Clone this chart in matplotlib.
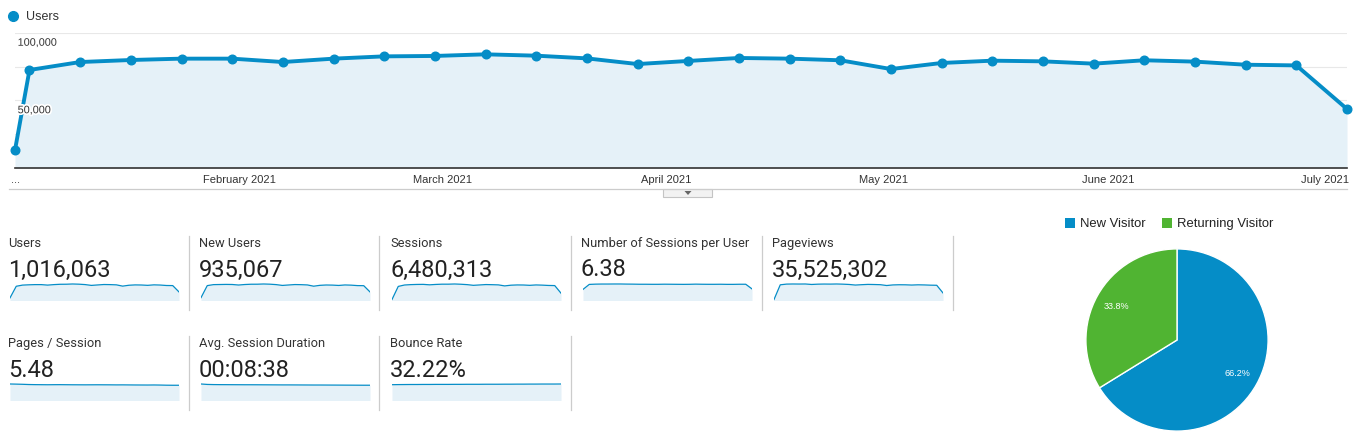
import matplotlib
matplotlib.use("Agg")
import matplotlib.pyplot as plt
import numpy as np
import pandas as pd
from matplotlib.patches import Rectangle, Polygon
from matplotlib.lines import Line2D
import matplotlib.patheffects as pe

# ---------------- data ----------------
week_dates = ['2021-01-01', '2021-01-03', '2021-01-10', '2021-01-17', '2021-01-24', '2021-01-31',
              '2021-02-07', '2021-02-14', '2021-02-21', '2021-02-28', '2021-03-07', '2021-03-14',
              '2021-03-21', '2021-03-28', '2021-04-04', '2021-04-11', '2021-04-18', '2021-04-25',
              '2021-05-02', '2021-05-09', '2021-05-16', '2021-05-23', '2021-05-30', '2021-06-06',
              '2021-06-13', '2021-06-20', '2021-06-27', '2021-07-04']
users = [13300, 72600, 78500, 80000, 81000, 81000, 78500, 81000, 82700, 83000, 84200, 83200,
         81200, 77000, 79300, 81500, 81000, 79800, 73300, 77800, 79500, 79000, 77300, 79800,
         78800, 76500, 76000, 43700]
month_ticks = ['2021-01-01', '2021-02-01', '2021-03-01', '2021-04-01', '2021-05-01', '2021-06-01', '2021-07-01']
month_labels = ['...', 'February 2021', 'March 2021', 'April 2021', 'May 2021', 'June 2021', 'July 2021']
y_ticks = [25000, 50000, 75000, 100000]
y_labels = {100000: '100,000', 50000: '50,000'}

new_users = [12800, 67500, 72000, 72500, 73000, 72600, 70200, 72500, 73800, 73900, 74900, 74000,
             72100, 68400, 70400, 72300, 71800, 70600, 64900, 68800, 70300, 69800, 68300, 70500,
             69600, 67600, 67200, 38900]
sessions = [15500, 221000, 243000, 249000, 252000, 253000, 246000, 252000, 256000, 256000, 259000, 255000,
            249000, 238000, 244000, 250000, 248000, 245000, 229000, 240000, 244000, 243000, 238000, 244000,
            241000, 236000, 234000, 115000]
sessions_per_user = [2.10, 3.05, 3.10, 3.12, 3.12, 3.13, 3.13, 3.11, 3.10, 3.08, 3.08, 3.07, 3.07, 3.09,
                     3.08, 3.07, 3.06, 3.07, 3.10, 3.08, 3.07, 3.07, 3.08, 3.06, 3.06, 3.08, 3.08, 2.20]
pageviews = [80000, 1330000, 1390000, 1400000, 1395000, 1400000, 1360000, 1385000, 1395000, 1390000,
             1400000, 1385000, 1360000, 1310000, 1340000, 1365000, 1355000, 1340000, 1270000, 1320000,
             1335000, 1330000, 1310000, 1330000, 1320000, 1300000, 1290000, 640000]
pages_per_session = [5.85, 5.80, 5.74, 5.66, 5.62, 5.60, 5.58, 5.60, 5.61, 5.59, 5.57, 5.56, 5.55, 5.56,
                     5.57, 5.56, 5.55, 5.53, 5.54, 5.52, 5.50, 5.49, 5.48, 5.50, 5.47, 5.42, 5.40, 5.40]
avg_duration = [560, 545, 540, 538, 537, 536, 535, 534, 534, 533, 532, 531, 530, 529, 529, 528, 527,
                526, 525, 525, 524, 523, 522, 521, 520, 519, 518, 518]
bounce_rate = [31.2, 31.4, 31.5, 31.6, 31.6, 31.7, 31.7, 31.8, 31.8, 31.8, 31.9, 31.9, 32.0, 32.0,
               32.0, 32.1, 32.1, 32.1, 32.2, 32.2, 32.3, 32.3, 32.4, 32.4, 32.5, 32.5, 32.5, 32.6]

card_titles = ['Users', 'New Users', 'Sessions', 'Number of Sessions per User', 'Pageviews',
               'Pages / Session', 'Avg. Session Duration', 'Bounce Rate']
card_values = ['1,016,063', '935,067', '6,480,313', '6.38', '35,525,302', '5.48', '00:08:38', '32.22%']
card_series = [users, new_users, sessions, sessions_per_user, pageviews,
               pages_per_session, avg_duration, bounce_rate]

pie_labels = ['New Visitor', 'Returning Visitor']
pie_values = [66.2, 33.8]

# ---------------- style ----------------
BLUE = '#058dc7'
GREEN = '#50b432'
FILL = '#e5f1f8'
W, H = 1357, 440
ARIAL = ['Liberation Sans', 'DejaVu Sans']
ROBOTO = ['Roboto', 'DejaVu Sans']


def fx(x):
    return x / W


def fy(y):
    return 1 - y / H


fig = plt.figure(figsize=(W / 100, H / 100), dpi=100)
fig.patch.set_facecolor('white')

# ---------------- main line chart ----------------
dates = pd.to_datetime(week_dates)
ax = fig.add_axes([fx(15), fy(168), (1347 - 15) / W, 135 / H])
ax.fill_between(dates, users, 0, color=FILL, zorder=1, lw=0)
ax.plot(dates, users, color=BLUE, lw=2.8, marker='o', ms=6.2, zorder=3, clip_on=False,
        solid_joinstyle='round')
ax.set_xlim(dates[0], dates[-1])
ax.set_ylim(0, 100000)
ax.set_yticks(y_ticks)
ax.tick_params(axis='y', length=0, labelleft=False)
ax.grid(axis='y', color='#e8e8e8', lw=0.8, zorder=0)
ax.set_axisbelow(True)
ax.set_xticks(pd.to_datetime(month_ticks))
ax.set_xticklabels(month_labels, fontfamily=ARIAL, fontsize=8, color='#333333')
ax.tick_params(axis='x', length=0, pad=5)
for s in ['top', 'left', 'right']:
    ax.spines[s].set_visible(False)
ax.spines['bottom'].set_color('#333333')
ax.spines['bottom'].set_linewidth(1.2)
ax.spines['bottom'].set_zorder(4)
for v, lab in y_labels.items():
    ax.text(0.002, v - 3500, lab, transform=ax.get_yaxis_transform(), ha='left', va='top',
            fontfamily=ARIAL, fontsize=7.8, color='#333333', zorder=5,
            path_effects=[pe.withStroke(linewidth=2.5, foreground='white')])

# legend of main chart
fig.add_artist(Line2D([fx(13)], [fy(16)], marker='o', ms=7, color=BLUE, lw=0,
                      transform=fig.transFigure))
fig.text(fx(26), fy(16.5), 'Users', fontfamily=ARIAL, fontsize=9, color='#333333', va='center', ha='left')

# separator and tab
fig.add_artist(Line2D([fx(9), fx(1347)], [fy(189), fy(189)], color='#cccccc', lw=0.9,
                      transform=fig.transFigure))
fig.add_artist(Rectangle((fx(663), fy(197.5)), 49 / W, 8.5 / H, facecolor='#f2f2f2',
                         edgecolor='#c4c4c4', lw=0.8, transform=fig.transFigure))
fig.add_artist(Polygon([[fx(684.5), fy(191)], [fx(691.5), fy(191)], [fx(688), fy(195)]],
                       closed=True, facecolor='#666666', edgecolor='none', transform=fig.transFigure))

# ---------------- scorecards ----------------
for i, (title, val, series) in enumerate(zip(card_titles, card_values, card_series)):
    row = 0 if i < 5 else 1
    col = i if i < 5 else i - 5
    x0 = 8 + 191 * col
    yo = 100 * row
    fig.text(fx(x0), fy(243 + yo), title, fontfamily=ROBOTO, fontsize=9.3, color='#333333',
             va='center', ha='left')
    fig.text(fx(x0), fy(270 + yo), val, fontfamily=ROBOTO, fontsize=17, color='#222222',
             va='center', ha='left')
    sax = fig.add_axes([fx(x0 + 2), fy(300.5 + yo), 169 / W, 17.5 / H])
    xs = np.arange(len(series))
    sax.fill_between(xs, series, 0, color=FILL, lw=0)
    sax.plot(xs, series, color=BLUE, lw=0.9)
    sax.set_xlim(0, len(series) - 1)
    sax.set_ylim(0, max(series) * 1.06)
    sax.axis('off')
    fig.add_artist(Line2D([fx(x0 + 180.5), fx(x0 + 180.5)], [fy(236 + yo), fy(310 + yo)],
                          color='#cccccc', lw=0.9, transform=fig.transFigure))

# ---------------- pie ----------------
pax = fig.add_axes([fx(1177 - 92), fy(340 + 92), 184 / W, 184 / H])
wedges, texts, autotexts = pax.pie(pie_values, colors=[BLUE, GREEN], startangle=90, counterclock=False,
                                   autopct='%.1f%%', pctdistance=0.76,
                                   wedgeprops=dict(edgecolor='white', linewidth=1.0),
                                   textprops=dict(color='white', fontsize=6.5, fontfamily=ARIAL))
pax.set_xlim(-1.01, 1.01)
pax.set_ylim(-1.01, 1.01)
pax.set_aspect('equal')

# pie legend
fig.add_artist(Rectangle((fx(1065), fy(228)), 9.5 / W, 9.5 / H, facecolor=BLUE, edgecolor='none',
                         transform=fig.transFigure))
fig.text(fx(1080), fy(223.5), pie_labels[0], fontfamily=ARIAL, fontsize=9.4, color='#222222', va='center')
fig.add_artist(Rectangle((fx(1162), fy(228)), 9.5 / W, 9.5 / H, facecolor=GREEN, edgecolor='none',
                         transform=fig.transFigure))
fig.text(fx(1177), fy(223.5), pie_labels[1], fontfamily=ARIAL, fontsize=9.4, color='#222222', va='center')

fig.savefig('out.png', dpi=100, facecolor='white')
